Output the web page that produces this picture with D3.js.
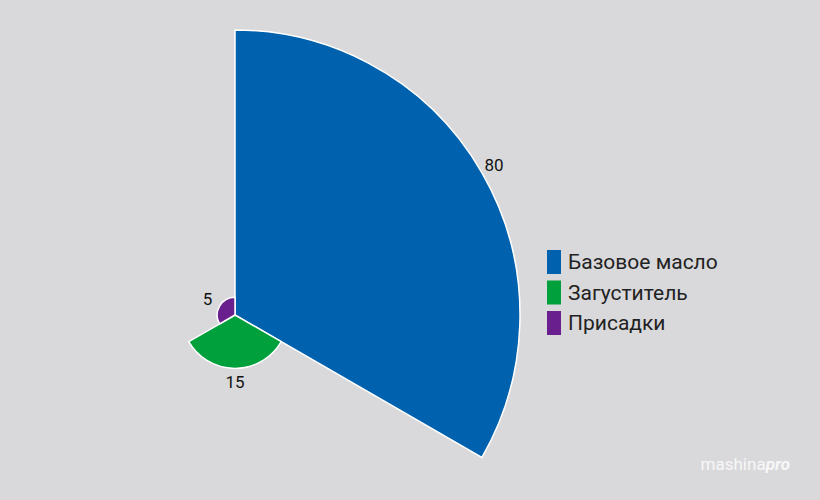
<!DOCTYPE html>
<html><head><meta charset="utf-8">
<script src="https://cdn.jsdelivr.net/npm/d3@7"></script>
<style>body{margin:0;background:#d9d9db}text{font-family:"Liberation Sans Narrow","Roboto",sans-serif}</style>
</head><body><svg id="c" width="820" height="500"></svg>
<script>
var categories = ["Базовое масло", "Загуститель", "Присадки"];
var values = [80, 15, 5];
var colors = ["#0061ae", "#00a03c", "#6a1f8f"];

var svg = d3.select("#c");
var cx = 235, cy = 315;
var r = d3.scaleLinear().domain([0, 80]).range([0, 285]);
var ang = d3.scaleLinear().domain([0, categories.length]).range([0, 2 * Math.PI]);
var arc = d3.arc().innerRadius(0);
var g = svg.append("g").attr("transform", "translate(" + cx + "," + cy + ")");

g.selectAll("path").data(values).join("path")
  .attr("d", (d, i) => arc({outerRadius: r(d), startAngle: ang(i), endAngle: ang(i + 1)}))
  .attr("fill", (d, i) => colors[i])
  .attr("stroke", "#fff").attr("stroke-width", 1.5);

g.selectAll("text.lbl").data(values).join("text").attr("class", "lbl")
  .attr("x", (d, i) => Math.sin(ang(i + 0.5)) * (r(d) + 14))
  .attr("y", (d, i) => -Math.cos(ang(i + 0.5)) * (r(d) + 14))
  .attr("text-anchor", "middle").attr("dy", "0.35em")
  .attr("font-size", 17).attr("fill", "#111").text(d => d);

var lg = svg.append("g").attr("transform", "translate(547,250)");
categories.forEach(function (c, i) {
  lg.append("rect").attr("x", 0).attr("y", i * 30.5).attr("width", 14).attr("height", 24).attr("fill", colors[i]);
  lg.append("text").attr("x", 21).attr("y", i * 30.5 + 19).attr("font-size", 21).attr("fill", "#222").text(c);
});

svg.append("text").attr("x", 790).attr("y", 470).attr("text-anchor", "end")
  .attr("font-size", 17).attr("fill", "#fff").attr("opacity", 0.8)
  .html('mashina<tspan font-weight="bold" font-style="italic">pro</tspan>');
</script></body></html>
